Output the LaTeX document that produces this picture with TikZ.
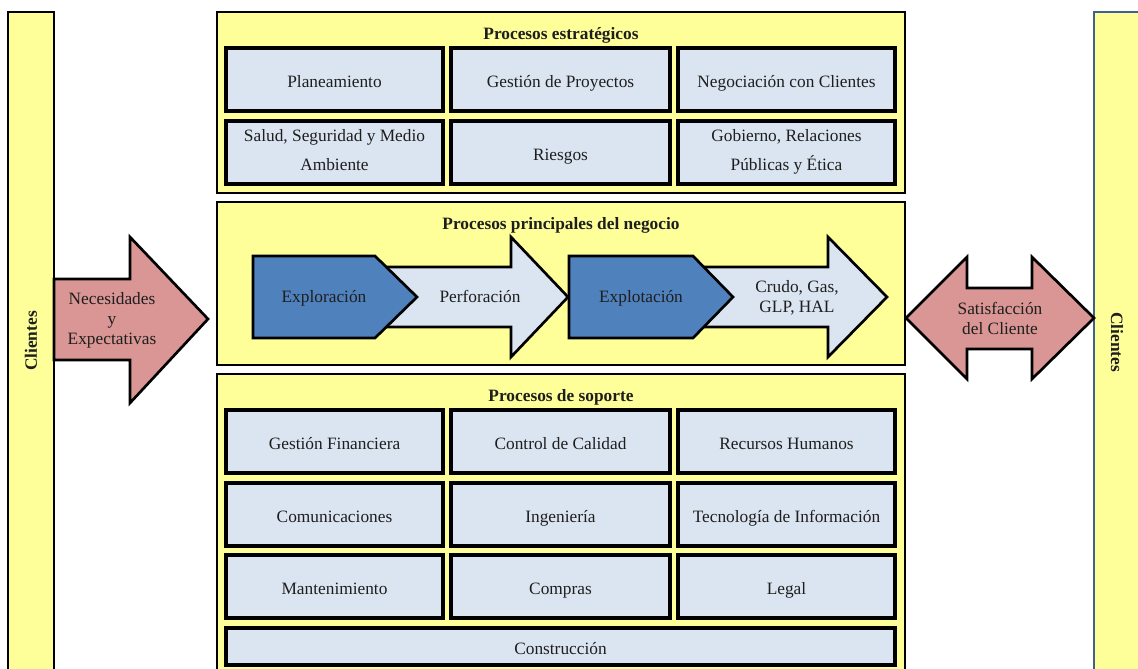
\documentclass[tikz,border=0pt]{standalone}
\usepackage{fontspec}
\setmainfont{Liberation Serif}
\definecolor{ylw}{HTML}{FFFF99}
\definecolor{lblue}{HTML}{DBE5F1}
\definecolor{dblue}{HTML}{4F81BD}
\definecolor{pinkf}{HTML}{D99694}
\definecolor{bbar}{HTML}{40608F}
\definecolor{txt}{HTML}{1E1E1E}
\newcommand{\bxstrut}{\rule[-4pt]{0pt}{20pt}}
\tikzset{
  grp/.style={draw=black, line width=2pt, fill=ylw, inner sep=0pt},
  pbox/.style={draw=black, line width=2.3pt, fill=lblue, inner sep=0pt, align=center,
    font=\fontsize{13}{21.75}\selectfont, text=txt,
    execute at begin node=\bxstrut, execute at end node=\bxstrut},
  ttl/.style={font=\fontsize{13}{16}\selectfont\bfseries, text=txt},
  shp/.style={draw=black, line width=2pt, line join=miter},
  atxt/.style={align=center, font=\fontsize{13}{15}\selectfont, text=txt,
    execute at begin node=\strut, execute at end node=\strut},
  ctxt/.style={rotate=90, font=\fontsize{13}{16}\selectfont\bfseries, text=txt}
}
\newcommand{\pbx}[6]{%
  \pgfmathsetmacro\bxw{(#4-#2)*0.75}%
  \pgfmathsetmacro\bxh{(#5-#3)*0.75}%
  \node[pbox, minimum width=\bxw pt, minimum height=\bxh pt] (#1) at ({(#2+#4)/2},{(#3+#5)/2}) {#6};}
\newcommand{\gbx}[6][grp]{%
  \pgfmathsetmacro\bxw{(#5-#3)*0.75}%
  \pgfmathsetmacro\bxh{(#6-#4)*0.75}%
  \node[#1, minimum width=\bxw pt, minimum height=\bxh pt] (#2) at ({(#3+#5)/2},{(#4+#6)/2}) {};}
\begin{document}
\begin{tikzpicture}[x=0.75pt, y=-0.75pt]
\useasboundingbox (0,0) rectangle (1138,668);
\clip (0,0) rectangle (1138,668);
\fill[white] (0,0) rectangle (1138,668);

% side bars
\gbx{clL}{8}{12}{54}{700}
\node[ctxt] (clLt) at (31,341) {Clientes};
\gbx[{draw=bbar, line width=1.5pt, fill=ylw, inner sep=0pt}]{clR}{1094}{12}{1160}{700}
\node[ctxt, rotate=180] (clRt) at (1117,342) {Clientes};

% strategic
\gbx{strat}{217}{12}{905}{193}
\node[ttl] (stratt) at (561,35) {Procesos estratégicos};
\pbx{plan}{226}{48}{443}{111}{Planeamiento}
\pbx{gproy}{451}{48}{670}{111}{Gestión de Proyectos}
\pbx{negc}{678}{48}{895}{111}{Negociación con Clientes}
\pbx{salud}{226}{121}{443}{184}{Salud, Seguridad y Medio\\Ambiente}
\pbx{riesg}{451}{121}{670}{184}{Riesgos}
\pbx{gob}{678}{121}{895}{184}{Gobierno, Relaciones\\Públicas y Ética}

% main
\gbx{main}{217}{202}{905}{365}
\node[ttl] (maint) at (561,225) {Procesos principales del negocio};
\draw[shp, fill=lblue] (387,267) -- (511,267) -- (511,237) -- (568,297) -- (511,357) -- (511,327) -- (387,327) -- cycle;
\draw[shp, fill=dblue] (253,256) -- (375,256) -- (417,297) -- (375,338) -- (253,338) -- cycle;
\node[atxt] (explo) at (324,298) {Exploración};
\node[atxt] (perf) at (480,298) {Perforación};
\draw[shp, fill=lblue] (705,267) -- (828,267) -- (828,237) -- (887,297) -- (828,357) -- (828,327) -- (705,327) -- cycle;
\draw[shp, fill=dblue] (569,256) -- (693,256) -- (733,297) -- (693,338) -- (569,338) -- cycle;
\node[atxt] (explt) at (641,298) {Explotación};
\node[atxt] (crudo) at (797,299) {Crudo, Gas,\\GLP, HAL};

% support
\gbx{sop}{217}{374}{905}{700}
\node[ttl] (sopt) at (561,397) {Procesos de soporte};
\pbx{gfin}{226}{410}{443}{473}{Gestión Financiera}
\pbx{ccal}{451}{410}{670}{473}{Control de Calidad}
\pbx{rrhh}{678}{410}{895}{473}{Recursos Humanos}
\pbx{comu}{226}{483}{443}{546}{Comunicaciones}
\pbx{ing}{451}{483}{670}{546}{Ingeniería}
\pbx{tinf}{678}{483}{895}{546}{Tecnología de Información}
\pbx{mant}{226}{555}{443}{618}{Mantenimiento}
\pbx{comp}{451}{555}{670}{618}{Compras}
\pbx{legal}{678}{555}{895}{618}{Legal}
\pbx{cons}{226}{628}{895}{665}{Construcción}

% left arrow
\draw[shp, fill=pinkf] (54,279) -- (130,279) -- (130,237) -- (208,319) -- (130,403) -- (130,360) -- (54,360) -- cycle;
\node[atxt] (nec) at (112,321) {Necesidades\\y\\Expectativas};

% right double arrow
\draw[shp, fill=pinkf] (906,318) -- (967,257) -- (967,288) -- (1032,288) -- (1032,257) -- (1094,318) -- (1032,379) -- (1032,349) -- (967,349) -- (967,379) -- cycle;
\node[atxt] (sat) at (1000,321) {Satisfacción\\del Cliente};
\end{tikzpicture}
\end{document}
